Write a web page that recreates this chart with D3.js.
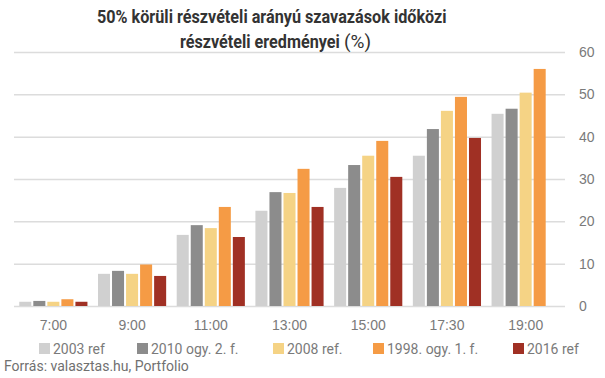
<!DOCTYPE html>
<html lang="hu">
<head>
  <meta charset="UTF-8">
  <title>Részvételi eredmények</title>
  <style>
    body { margin: 0; background: #fff; font-family: Roboto, sans-serif; }
    svg { display: block; }
    .grid line { stroke: #dcdcdc; stroke-width: 1.5px; }
    .tick text { fill: #7a7a7a; font-size: 14px; }
    .title { fill: #333; font-size: 19px; font-weight: bold; }
  </style>
</head>
<body>
  <svg width="605" height="378"></svg>
  <script src="https://d3js.org/d3.v7.min.js"></script>
  <script>
    const times = ["7:00", "9:00", "11:00", "13:00", "15:00", "17:30", "19:00"];
    const seriesNames = ["2003 ref", "2010 ogy. 2. f.", "2008 ref.", "1998. ogy. 1. f.", "2016 ref"];
    const colors = ["#d0d0d0", "#8c8c8c", "#f5d385", "#f59b45", "#a03024"];

    // one array per series, values per time of day (null = no data)
    const ref2003 = [1.0, 7.6, 16.8, 22.5, 27.9, 35.5, 45.4];
    const ogy2010 = [1.2, 8.3, 19.1, 26.9, 33.3, 41.8, 46.6];
    const ref2008 = [1.0, 7.6, 18.4, 26.7, 35.5, 46.1, 50.4];
    const ogy1998 = [1.6, 9.8, 23.4, 32.4, 39.0, 49.4, 56.0];
    const ref2016 = [1.0, 7.1, 16.3, 23.4, 30.5, 39.7, null];
    const yTicks = [0, 10, 20, 30, 40, 50, 60];

    const values = [ref2003, ogy2010, ref2008, ogy1998, ref2016];

    const svg = d3.select("svg");
    const plot = { left: 14, right: 565, top: 52, bottom: 306 };

    const x = d3.scaleBand()
      .domain(times)
      .range([plot.left, plot.right])
      .paddingInner(0.134)
      .paddingOuter(0.067);

    const xs = d3.scaleBand()
      .domain(d3.range(seriesNames.length))
      .range([0, x.bandwidth()])
      .paddingInner(0.143);

    const y = d3.scaleLinear()
      .domain([0, 60])
      .range([plot.bottom, plot.top]);

    // gridlines + right-hand labels
    const yAxis = svg.append("g")
      .attr("class", "grid")
      .attr("transform", `translate(${plot.left},0)`)
      .call(d3.axisRight(y).tickValues(yTicks)
        .tickSize(plot.right - plot.left)
        .tickPadding(14));
    yAxis.select(".domain").remove();
    yAxis.selectAll(".tick text").attr("text-anchor", "start");

    // bars
    const groups = svg.append("g").selectAll("g")
      .data(times)
      .join("g")
      .attr("transform", d => `translate(${x(d)},0)`);

    groups.selectAll("rect")
      .data((t, i) => values.map((s, k) => ({ k, v: s[i] })).filter(d => d.v != null))
      .join("rect")
      .attr("x", d => xs(d.k))
      .attr("width", xs.bandwidth())
      .attr("y", d => y(d.v))
      .attr("height", d => y(0) - y(d.v))
      .attr("fill", d => colors[d.k]);

    // x labels
    const xAxis = svg.append("g")
      .attr("transform", `translate(0,${plot.bottom})`)
      .call(d3.axisBottom(x).tickSize(0).tickPadding(14));
    xAxis.select(".domain").remove();

    // title: the original font is condensed, so squeeze Roboto bold horizontally
    function squeezed(str, x0, y0, width, bold) {
      const g = svg.append("g");
      const t = g.append("text").attr("class", "title")
        .style("font-weight", bold ? "bold" : "normal")
        .text(str);
      const sx = width ? width / t.node().getComputedTextLength() : 1;
      g.attr("transform", `translate(${x0},${y0}) scale(${sx},1)`);
    }
    squeezed("50% körüli részvételi arányú szavazások időközi", 97, 23, 350, true);
    squeezed("részvételi eredményei", 180, 48, 160, true);
    squeezed("(%)", 344, 48, 0, false);

    // legend
    const legendX = [39, 137, 273, 373, 513];
    const legend = svg.append("g").selectAll("g")
      .data(seriesNames)
      .join("g")
      .attr("transform", (d, i) => `translate(${legendX[i]},343)`);
    legend.append("rect")
      .attr("width", 11).attr("height", 11)
      .attr("fill", (d, i) => colors[i]);
    legend.append("text")
      .attr("x", 14).attr("y", 10.5)
      .style("fill", "#7a7a7a").style("font-size", "14px")
      .text(d => d);

    svg.append("text")
      .attr("x", 4).attr("y", 371)
      .style("fill", "#707070").style("font-size", "14px")
      .text("Forrás: valasztas.hu, Portfolio");
  </script>
</body>
</html>
